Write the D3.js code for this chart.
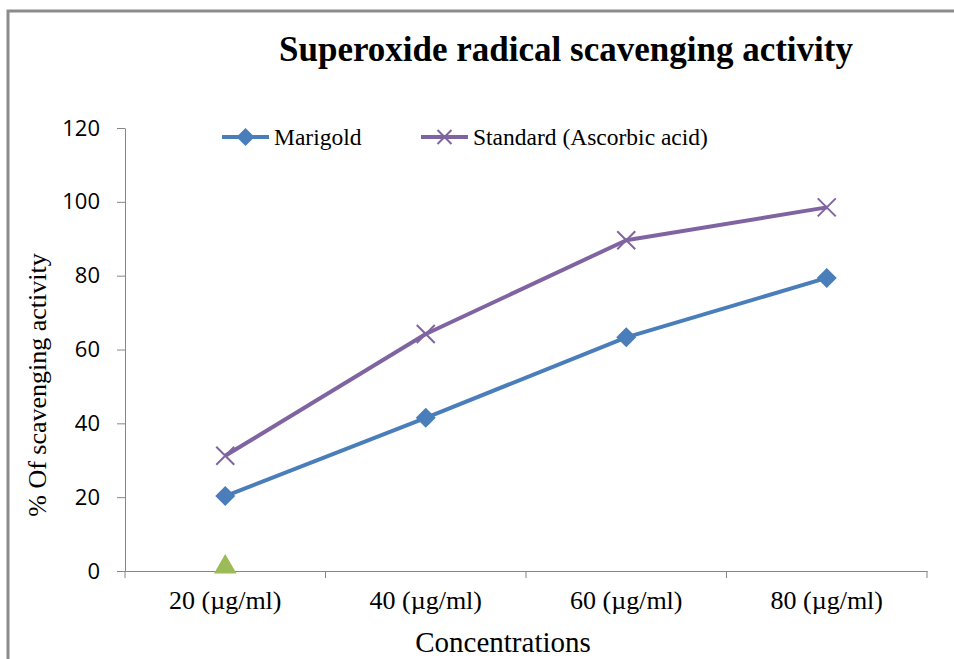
<!DOCTYPE html>
<html>
<head>
<meta charset="utf-8">
<script src="https://cdn.jsdelivr.net/npm/d3@7"></script>
<style>
  body { margin: 0; background: #fff; }
  svg { display: block; }
</style>
</head>
<body>
<div id="chart"></div>
<script>
// data
const categories = ["20 (\u00b5g/ml)", "40 (\u00b5g/ml)", "60 (\u00b5g/ml)", "80 (\u00b5g/ml)"];
const marigold = [20.3, 41.5, 63.3, 79.4];
const standard = [31.2, 64.2, 89.6, 98.5];
// third series: only one point at the first category
const series3 = [0];
const yTicks = [0, 20, 40, 60, 80, 100, 120];

const width = 954, height = 659;
const plotLeft = 125, plotRight = 927, plotTop = 128, plotBottom = 571;
const serif = "'Liberation Serif', 'Times New Roman', serif";

const svg = d3.select("#chart").append("svg")
    .attr("width", width)
    .attr("height", height);

// outer frame (top and left edges only visible)
svg.append("path")
    .attr("d", `M8,${height} L8,11 L${width},11`)
    .attr("fill", "none")
    .attr("stroke", "#8c8c8c")
    .attr("stroke-width", 3);

const x = d3.scaleBand().domain(categories).range([plotLeft, plotRight]);
const y = d3.scaleLinear().domain([0, 120]).range([plotBottom, plotTop]);

// y axis
const yAxis = svg.append("g")
    .attr("transform", `translate(${plotLeft},0)`)
    .call(d3.axisLeft(y).tickValues(yTicks).tickSize(8).tickPadding(17).tickSizeOuter(0));
yAxis.select(".domain").attr("stroke", "#868686");
yAxis.selectAll(".tick line").attr("stroke", "#868686");
yAxis.selectAll("text")
    .attr("fill", "#000")
    .style("font-family", "'Open Sans', sans-serif")
    .style("font-size", "22px");

// x axis, ticks drawn on the category boundaries below
const xAxis = svg.append("g")
    .attr("transform", `translate(0,${plotBottom})`)
    .call(d3.axisBottom(x).tickSize(0).tickPadding(20).tickSizeOuter(0));
xAxis.select(".domain").attr("stroke", "#868686");
xAxis.selectAll("text")
    .attr("fill", "#000")
    .style("font-family", serif)
    .style("font-size", "26px");

const edges = categories.map(c => x(c)).concat([x(categories[categories.length - 1]) + x.bandwidth()]);
svg.append("g").selectAll("line")
    .data(edges)
    .join("line")
    .attr("x1", d => d).attr("x2", d => d)
    .attr("y1", plotBottom).attr("y2", plotBottom + 7)
    .attr("stroke", "#868686");

const cx = c => x(c) + x.bandwidth() / 2;

const line = d3.line()
    .x((d, i) => cx(categories[i]))
    .y(d => y(d));

const blue = "#4a7ebb", purple = "#8064a2", green = "#9bbb59";

// standard line
svg.append("path")
    .datum(standard)
    .attr("d", line)
    .attr("fill", "none")
    .attr("stroke", purple)
    .attr("stroke-width", 4)
    .attr("stroke-linejoin", "round");

// marigold line
svg.append("path")
    .datum(marigold)
    .attr("d", line)
    .attr("fill", "none")
    .attr("stroke", blue)
    .attr("stroke-width", 4)
    .attr("stroke-linejoin", "round");

const diamond = s => `M0,${-s} L${s},0 L0,${s} L${-s},0 Z`;
const cross = s => `M${-s},${-s} L${s},${s} M${-s},${s} L${s},${-s}`;

svg.append("g").selectAll("path")
    .data(marigold)
    .join("path")
    .attr("transform", (d, i) => `translate(${cx(categories[i])},${y(d)})`)
    .attr("d", diamond(10))
    .attr("fill", blue);

svg.append("g").selectAll("path")
    .data(standard)
    .join("path")
    .attr("transform", (d, i) => `translate(${cx(categories[i])},${y(d)})`)
    .attr("d", cross(9))
    .attr("fill", "none")
    .attr("stroke", purple)
    .attr("stroke-width", 2);

svg.append("g").selectAll("path")
    .data(series3)
    .join("path")
    .attr("transform", (d, i) => `translate(${cx(categories[i])},${y(d) - 4})`)
    .attr("d", d3.symbol().type(d3.symbolTriangle).size(220))
    .attr("fill", green);

// title
svg.append("text")
    .attr("x", 566)
    .attr("y", 61)
    .attr("text-anchor", "middle")
    .style("font-family", serif)
    .style("font-weight", "bold")
    .style("font-size", "35px")
    .text("Superoxide radical scavenging activity");

// legend
const legend = [
    { name: "Marigold", color: blue, mark: "diamond", x: 222 },
    { name: "Standard (Ascorbic acid)", color: purple, mark: "cross", x: 421 }
];
const lg = svg.append("g").selectAll("g")
    .data(legend)
    .join("g")
    .attr("transform", d => `translate(${d.x},137)`);
lg.append("line")
    .attr("x1", 0).attr("x2", 47)
    .attr("stroke", d => d.color)
    .attr("stroke-width", 4);
lg.append("path")
    .attr("transform", "translate(23.5,0)")
    .attr("d", d => d.mark === "diamond" ? diamond(9) : cross(7))
    .attr("fill", d => d.mark === "diamond" ? d.color : "none")
    .attr("stroke", d => d.mark === "diamond" ? "none" : d.color)
    .attr("stroke-width", 2);
lg.append("text")
    .attr("x", 52)
    .attr("y", 8)
    .style("font-family", serif)
    .style("font-size", "23.5px")
    .text(d => d.name);

// axis titles
svg.append("text")
    .attr("transform", "translate(46,385) rotate(-90)")
    .attr("text-anchor", "middle")
    .style("font-family", serif)
    .style("font-size", "26px")
    .text("% Of scavenging activity");

svg.append("text")
    .attr("x", 503)
    .attr("y", 652)
    .attr("text-anchor", "middle")
    .style("font-family", serif)
    .style("font-size", "29px")
    .text("Concentrations");
</script>
</body>
</html>
